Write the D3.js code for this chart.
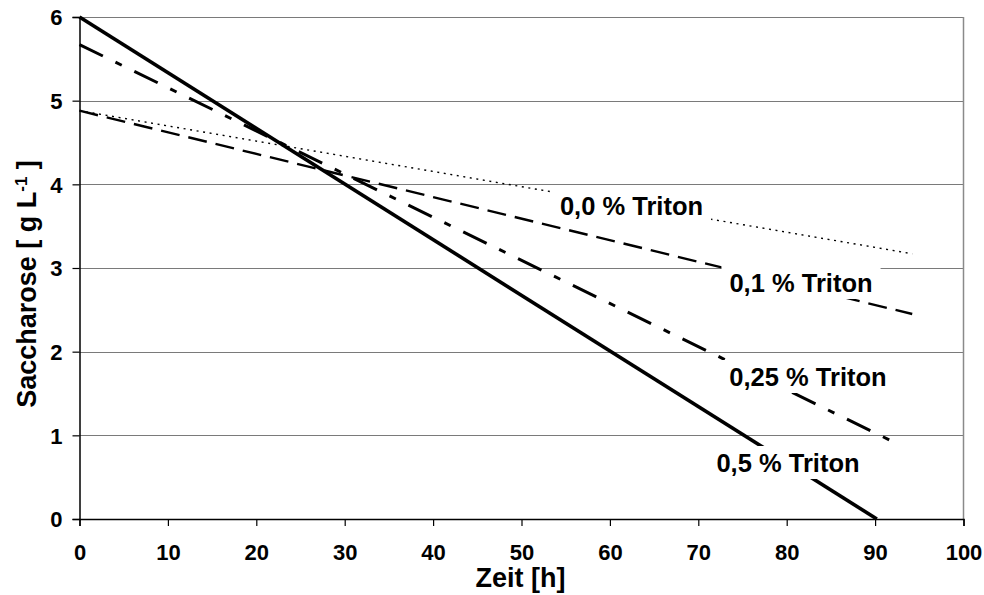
<!DOCTYPE html>
<html>
<head>
<meta charset="utf-8">
<script src="https://cdn.jsdelivr.net/npm/d3@7/dist/d3.min.js"></script>
<style>
  html, body { margin: 0; padding: 0; background: #fff; }
  svg { display: block; font-family: Arial, "Liberation Sans", sans-serif; font-weight: bold; }
</style>
</head>
<body>
<svg id="chart" width="984" height="595"></svg>
<script>
// Sucrose consumption over time for four Triton concentrations (linear trends)
const xTicks = [0, 10, 20, 30, 40, 50, 60, 70, 80, 90, 100];
const yTicks = [0, 1, 2, 3, 4, 5, 6];

const seriesNames = ["0,0 % Triton", "0,1 % Triton", "0,25 % Triton", "0,5 % Triton"];
const triton00 = [[0, 4.88], [94.2, 3.17]];
const triton01 = [[0, 4.88], [94.2, 2.45]];
const triton025 = [[0, 5.67], [92.5, 0.9]];
const triton05 = [[0, 6.0], [90.2, 0]];

const xTitle = "Zeit [h]";

const svg = d3.select("#chart");
const plot = { left: 79.5, right: 963.5, top: 17, bottom: 519 };

const x = d3.scaleLinear().domain([0, 100]).range([plot.left, plot.right]);
const y = d3.scaleLinear().domain([0, 6]).range([plot.bottom, plot.top]);

// horizontal gridlines
svg.append("g")
  .selectAll("line")
  .data(yTicks.filter(d => d > 0))
  .join("line")
  .attr("x1", plot.left).attr("x2", plot.right)
  .attr("y1", d => Math.round(y(d)) + 0.5).attr("y2", d => Math.round(y(d)) + 0.5)
  .attr("stroke", "#7a7a7a").attr("stroke-width", 1);

// right border of the plot area
svg.append("line")
  .attr("x1", plot.right).attr("x2", plot.right)
  .attr("y1", plot.top).attr("y2", plot.bottom)
  .attr("stroke", "#8a8a8a").attr("stroke-width", 1.5);

// series lines
const line = d3.line().x(d => x(d[0])).y(d => y(d[1]));
const styles = [
  { data: triton00, width: 1.4, dash: "2,4.6" },
  { data: triton01, width: 2.4, dash: "19,9" },
  { data: triton025, width: 3, dash: "26,14,7,14" },
  { data: triton05, width: 3.6, dash: null }
];
svg.append("g")
  .selectAll("path")
  .data(styles)
  .join("path")
  .attr("d", d => line(d.data))
  .attr("fill", "none")
  .attr("stroke", "#000")
  .attr("stroke-width", d => d.width)
  .attr("stroke-dasharray", d => d.dash);

// axes
const xAxis = d3.axisBottom(x).tickValues(xTicks).tickSize(7).tickPadding(18).tickFormat(d3.format("d"));
const yAxis = d3.axisLeft(y).tickValues(yTicks).tickSize(7).tickPadding(10).tickFormat(d3.format("d"));

const gx = svg.append("g").attr("transform", `translate(0,${plot.bottom})`).call(xAxis);
const gy = svg.append("g").attr("transform", `translate(${plot.left},0)`).call(yAxis);
[gx, gy].forEach(g => {
  g.select(".domain").attr("stroke", "#000").attr("stroke-width", 1.5);
  g.selectAll(".tick line").attr("stroke", "#000").attr("stroke-width", 1.2);
  g.selectAll(".tick text")
    .attr("fill", "#000")
    .style("font-size", "22px")
    .style("font-weight", "bold")
    .style("font-family", "Arial, 'Liberation Sans', sans-serif");
});
gy.selectAll(".tick text").attr("dy", "0.36em");

// series labels on white boxes
const labelPos = [
  { name: seriesNames[0], cx: 631.5, base: 215 },
  { name: seriesNames[1], cx: 801, base: 292 },
  { name: seriesNames[2], cx: 808, base: 386 },
  { name: seriesNames[3], cx: 788, base: 472 }
];
const lg = svg.append("g");
labelPos.forEach(l => {
  const t = lg.append("text")
    .attr("x", l.cx).attr("y", l.base)
    .attr("text-anchor", "middle")
    .style("font-size", "25.5px")
    .text(l.name);
  const bb = t.node().getBBox();
  lg.insert("rect", () => t.node())
    .attr("x", bb.x - 8).attr("y", l.base - 26)
    .attr("width", bb.width + 16).attr("height", 33)
    .attr("fill", "#fff");
});

// axis titles
svg.append("text")
  .attr("x", (plot.left + plot.right) / 2 - 1)
  .attr("y", 587)
  .attr("text-anchor", "middle")
  .style("font-size", "27px")
  .text(xTitle);

const yt = svg.append("text")
  .attr("transform", `translate(36,284) rotate(-90)`)
  .attr("text-anchor", "middle")
  .style("font-size", "27px");
yt.append("tspan").text("Saccharose [ g L");
yt.append("tspan").attr("dy", "-0.55em").style("font-size", "17px").text("-1");
yt.append("tspan").attr("dy", "0.35em").text(" ]");
</script>
</body>
</html>
